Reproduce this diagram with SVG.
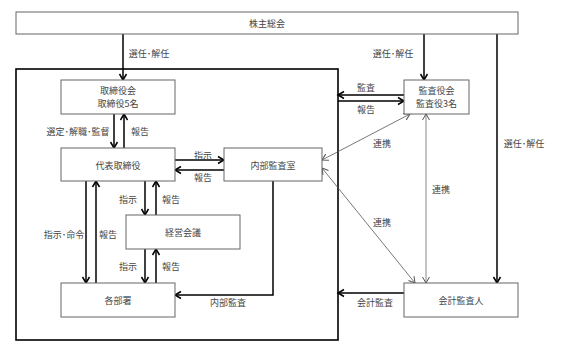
<svg xmlns="http://www.w3.org/2000/svg" width="567" height="352" viewBox="0 0 567 352">
<defs>
<marker id="ah" markerUnits="userSpaceOnUse" markerWidth="10" markerHeight="10" viewBox="0 0 10 10" refX="8" refY="5" orient="auto-start-reverse">
<path d="M2,1.5 L8,5 L2,8.5" fill="none" stroke="#000" stroke-width="1.5"/>
</marker>
<marker id="ag" markerUnits="userSpaceOnUse" markerWidth="10" markerHeight="10" viewBox="0 0 10 10" refX="8" refY="5" orient="auto-start-reverse">
<path d="M2,1.5 L8,5 L2,8.5" fill="none" stroke="#555" stroke-width="1"/>
</marker>
</defs>
<style>
.box{fill:#fff;stroke:#666;stroke-width:1}
.outer{fill:none;stroke:#000;stroke-width:1.6}
.t{font-family:"Noto Sans CJK JP","Noto Sans",sans-serif;font-size:9px;fill:#444;text-anchor:middle;dominant-baseline:central}
.a{fill:none;stroke:#000;stroke-width:1.5;marker-end:url(#ah)}
.g{fill:none;stroke:#555;stroke-width:0.8;marker-start:url(#ag);marker-end:url(#ag)}
.gg{fill:none;stroke:#888;stroke-width:1;marker-start:url(#ag);marker-end:url(#ag)}
</style>
<rect width="567" height="352" fill="#fff"/>
<rect class="outer" x="16" y="69" width="322" height="271"/>
<g id="connectors">
<line class="a" x1="123" y1="34" x2="123" y2="80"/>
<line class="a" x1="424" y1="34" x2="424" y2="80"/>
<line class="a" x1="497" y1="34" x2="497" y2="283"/>
<line class="a" x1="114" y1="114" x2="114" y2="148"/>
<line class="a" x1="124" y1="148" x2="124" y2="114"/>
<line class="a" x1="175" y1="160" x2="224" y2="160"/>
<line class="a" x1="224" y1="170" x2="175" y2="170"/>
<line class="a" x1="145" y1="181" x2="145" y2="215"/>
<line class="a" x1="156" y1="215" x2="156" y2="181"/>
<line class="a" x1="145" y1="249" x2="145" y2="283"/>
<line class="a" x1="156" y1="283" x2="156" y2="249"/>
<line class="a" x1="86" y1="181" x2="86" y2="283"/>
<line class="a" x1="96" y1="283" x2="96" y2="181"/>
<polyline class="a" points="273,181 273,295 175,295"/>
<line class="a" x1="404" y1="95" x2="338" y2="95"/>
<line class="a" x1="338" y1="101" x2="404" y2="101"/>
<line class="a" x1="404" y1="293" x2="338" y2="293"/>
<line class="g" x1="410" y1="114" x2="322" y2="160"/>
<line class="g" x1="322" y1="168" x2="415" y2="283"/>
<line class="gg" x1="426" y1="114" x2="426" y2="283"/>
<text class="t" x="149" y="53">選任･解任</text>
<text class="t" x="393" y="53">選任･解任</text>
<text class="t" x="524" y="143">選任･解任</text>
<text class="t" x="78" y="131">選定･解職･監督</text>
<text class="t" x="140" y="131">報告</text>
<text class="t" x="203" y="155">指示</text>
<text class="t" x="203" y="177">報告</text>
<text class="t" x="128" y="199">指示</text>
<text class="t" x="171" y="199">報告</text>
<text class="t" x="128" y="266">指示</text>
<text class="t" x="171" y="266">報告</text>
<text class="t" x="64" y="234">指示･命令</text>
<text class="t" x="108" y="234">報告</text>
<text class="t" x="228" y="302">内部監査</text>
<text class="t" x="366" y="87">監査</text>
<text class="t" x="366" y="109">報告</text>
<text class="t" x="382" y="143">連携</text>
<text class="t" x="441" y="189">連携</text>
<text class="t" x="382" y="222">連携</text>
<text class="t" x="375" y="302">会計監査</text>
</g>
<g id="shareholders">
<rect class="box" x="16" y="12" width="502" height="22"/>
<text class="t" x="267" y="23.5">株主総会</text>
</g>
<g id="board">
<rect class="box" x="61" y="80" width="114" height="34"/>
<text class="t" x="118" y="90.5">取締役会</text>
<text class="t" x="118" y="103.5">取締役5名</text>
</g>
<g id="ceo">
<rect class="box" x="61" y="148" width="114" height="33"/>
<text class="t" x="118" y="165">代表取締役</text>
</g>
<g id="internal-audit">
<rect class="box" x="224" y="148" width="98" height="33"/>
<text class="t" x="273" y="165">内部監査室</text>
</g>
<g id="management-meeting">
<rect class="box" x="126" y="215" width="114" height="34"/>
<text class="t" x="183" y="232.5">経営会議</text>
</g>
<g id="departments">
<rect class="box" x="61" y="283" width="114" height="34"/>
<text class="t" x="118" y="300.5">各部署</text>
</g>
<g id="auditors">
<rect class="box" x="404" y="80" width="65" height="34"/>
<text class="t" x="436.5" y="90.5">監査役会</text>
<text class="t" x="436.5" y="103.5">監査役3名</text>
</g>
<g id="accounting-auditor">
<rect class="box" x="404" y="283" width="114" height="34"/>
<text class="t" x="461" y="300.5">会計監査人</text>
</g>
</svg>
